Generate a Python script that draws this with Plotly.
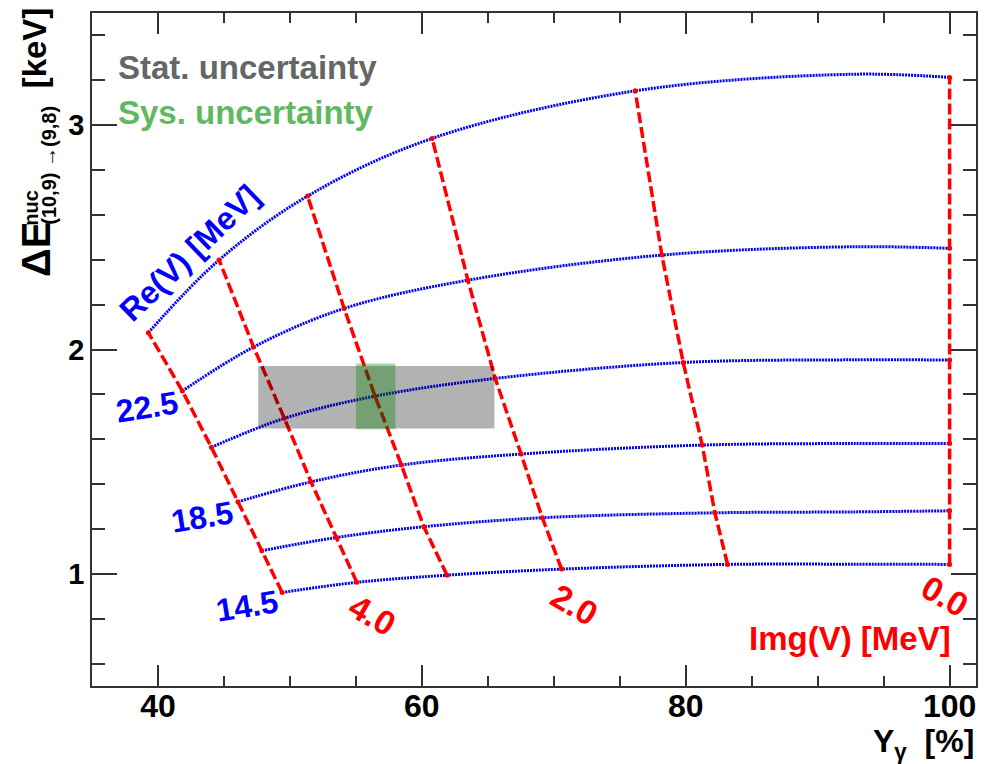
import plotly.graph_objects as go

# Potential parameters of the grid
re_values = [14.5, 16.5, 18.5, 20.5, 22.5, 24.5]   # Re(V) [MeV], one blue curve each
img_values = [5.0, 4.0, 3.0, 2.0, 1.0, 0.0]        # Img(V) [MeV], one red line each

# Yield Y_gamma [%] at each node: rows follow re_values, columns follow img_values
yield_grid = [
    [49.41, 55.07, 61.91, 70.59, 83.17, 100.0],
    [47.87, 53.53, 60.15, 69.13, 82.21, 100.0],
    [46.06, 51.60, 58.45, 67.52, 81.25, 100.0],
    [44.05, 49.58, 56.45, 65.56, 79.81, 100.0],
    [41.85, 47.25, 54.11, 63.49, 78.19, 100.0],
    [39.27, 44.63, 51.34, 60.78, 76.17, 100.0],
]

# Energy shift Delta E [keV] at each node
energy_grid = [
    [0.917, 0.962, 0.994, 1.021, 1.042, 1.042],
    [1.103, 1.162, 1.210, 1.250, 1.272, 1.281],
    [1.321, 1.410, 1.485, 1.534, 1.574, 1.581],
    [1.564, 1.693, 1.792, 1.871, 1.942, 1.953],
    [1.815, 2.011, 2.183, 2.309, 2.421, 2.451],
    [2.075, 2.399, 2.684, 2.941, 3.153, 3.213],
]

# One more sample on each Re curve between Img = 1.0 and Img = 0.0
bend_yield = [92.6, 92.6, 92.6, 92.6, 92.6, 92.6]
bend_energy = [1.043, 1.276, 1.581, 1.954, 2.458, 3.227]

# Measurement: statistical and systematic bands
stat_yield = [47.6, 65.5]
stat_energy = [1.648, 1.927]
sys_yield = [55.0, 58.0]
sys_energy = [1.644, 1.938]

FONT = "Liberation Sans"
BLUE = "#0000ff"
RED = "#ff0000"
AXIS = "#333333"

fig = go.Figure()

# Constant-Re curves (blue, dotted)
for i, re in enumerate(re_values):
    xs = yield_grid[i][:5] + [bend_yield[i], yield_grid[i][5]]
    ys = energy_grid[i][:5] + [bend_energy[i], energy_grid[i][5]]
    fig.add_trace(go.Scatter(
        x=xs, y=ys, mode="lines",
        line=dict(color=BLUE, width=3, dash="2px,1px", shape="spline", smoothing=1.0),
        name=f"Re(V) = {re}", showlegend=False, hoverinfo="skip",
    ))

# Constant-Img lines (red, dashed)
for j, im in enumerate(img_values):
    xs = [yield_grid[i][j] for i in range(len(re_values))]
    ys = [energy_grid[i][j] for i in range(len(re_values))]
    fig.add_trace(go.Scatter(
        x=xs, y=ys, mode="lines+markers",
        line=dict(color=RED, width=3.5, dash="11px,4px"),
        marker=dict(color=RED, size=5),
        name=f"Img(V) = {im}", showlegend=False, hoverinfo="skip",
    ))

# Uncertainty bands drawn over the grid
fig.add_shape(type="rect", xref="x", yref="y",
              x0=stat_yield[0], x1=stat_yield[1], y0=stat_energy[0], y1=stat_energy[1],
              fillcolor="rgba(0,0,0,0.30)", line=dict(width=0), layer="above")
fig.add_shape(type="rect", xref="x", yref="y",
              x0=sys_yield[0], x1=sys_yield[1], y0=sys_energy[0], y1=sys_energy[1],
              fillcolor="rgba(0,128,0,0.35)", line=dict(width=0), layer="above")


def label(text, x, y, size, color, angle=0, xanchor="center", yanchor="middle"):
    fig.add_annotation(
        text=text, x=x, y=y, xref="paper", yref="paper",
        xanchor=xanchor, yanchor=yanchor, textangle=angle, showarrow=False,
        font=dict(family=FONT, size=size, color=color, weight="bold"),
    )


# Legend-like text
label("Stat. uncertainty", 0.0271, 0.9189, 33, "rgb(102,102,102)", xanchor="left")
label("Sys. uncertainty", 0.0271, 0.8526, 33, "rgb(96,184,96)", xanchor="left")

# Curve labels
label("Re(V) [MeV]", 0.1106, 0.6429, 32, BLUE, angle=-44)
label(f"{re_values[4]:.1f}", 0.0626, 0.4146, 32, BLUE, angle=-9)
label(f"{re_values[2]:.1f}", 0.1247, 0.2514, 32, BLUE, angle=-9)
label(f"{re_values[0]:.1f}", 0.1755, 0.1184, 32, BLUE, angle=-9)
label(f"{img_values[1]:.1f}", 0.3172, 0.1060, 34, RED, angle=30)
label(f"{img_values[3]:.1f}", 0.5463, 0.1210, 34, RED, angle=30)
label(f"{img_values[5]:.1f}", 0.9645, 0.1330, 34, RED, angle=30)
label("Img(V) [MeV]", 0.9745, 0.0710, 33, RED, xanchor="right")

# Axis titles
label("Y<sub>γ</sub>\u00a0\u00a0[%]", 1.0, -0.0855, 32, "black", xanchor="right")
label("[keV]", -0.0655, 0.9476, 33, "black", angle=-90)
label("ΔE", -0.0632, 0.6480, 40, "black", angle=-90)
label("nuc", -0.0688, 0.7110, 20, "black", angle=-90)
label("(10,9) →(9,8)", -0.0490, 0.7740, 20, "black", angle=-90)

fig.update_layout(
    width=984, height=764,
    margin=dict(l=92, r=6, t=13, b=78),
    paper_bgcolor="white", plot_bgcolor="white",
    showlegend=False,
    xaxis=dict(
        range=[35, 102], showgrid=False, zeroline=False,
        showline=True, linecolor=AXIS, linewidth=1.5, mirror="ticks",
        ticks="inside", ticklen=21, tickwidth=1.5, tickcolor=AXIS,
        tick0=0, dtick=20, ticklabelstandoff=-9,
        tickfont=dict(family=FONT, size=32, color="black", weight="bold"),
        minor=dict(tick0=0, dtick=5, ticks="inside", ticklen=10, tickwidth=1.5,
                   tickcolor=AXIS, showgrid=False),
    ),
    yaxis=dict(
        range=[0.5, 3.5], showgrid=False, zeroline=False,
        showline=True, linecolor=AXIS, linewidth=1.5, mirror="ticks",
        ticks="inside", ticklen=25, tickwidth=1.5, tickcolor=AXIS,
        tick0=0, dtick=1,
        tickfont=dict(family=FONT, size=29, color="black", weight="bold"),
        minor=dict(tick0=0, dtick=0.2, ticks="inside", ticklen=13, tickwidth=1.5,
                   tickcolor=AXIS, showgrid=False),
    ),
)

fig.write_html("out.html")
